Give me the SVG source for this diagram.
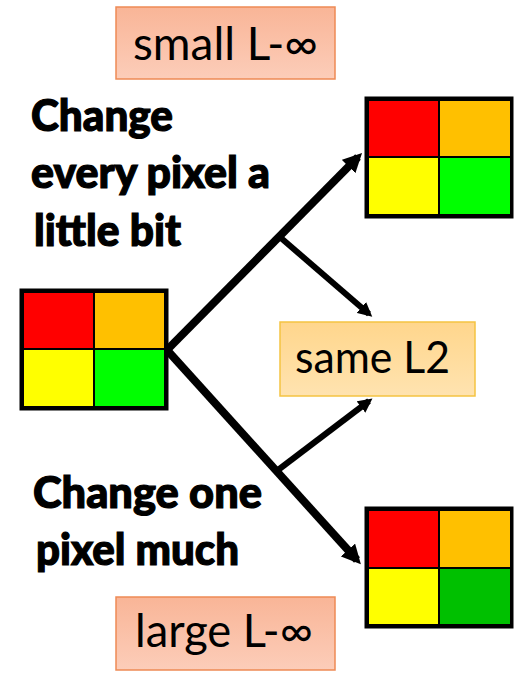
<svg xmlns="http://www.w3.org/2000/svg" width="514" height="690" viewBox="0 0 514 690">
  <defs>
    <linearGradient id="salmon" x1="0" y1="0" x2="0" y2="1">
      <stop offset="0" stop-color="#F9B597"/>
      <stop offset="1" stop-color="#FCCDB9"/>
    </linearGradient>
    <linearGradient id="peach" x1="0" y1="0" x2="0" y2="1">
      <stop offset="0" stop-color="#FFD68C"/>
      <stop offset="1" stop-color="#FFE3B0"/>
    </linearGradient>
    <marker id="arrow" viewBox="0 0 10 10" refX="7" refY="5" markerWidth="2.4" markerHeight="2.4" orient="auto" markerUnits="strokeWidth">
      <path d="M0,0 L10,5 L0,10 z" fill="#000"/>
    </marker>
  </defs>
  <style>
    .lbl { font-family: Lato, "Liberation Sans", sans-serif; fill: #000; }
    .note { font-family: Lato, "Liberation Sans", sans-serif; font-weight: 900; fill: #000; stroke: #000; stroke-width: 1.2; font-size: 44px; }
    .cell { stroke: #000; stroke-width: 2; }
    .frame { fill: none; stroke: #000; stroke-width: 3; }
    .main { stroke: #000; stroke-width: 8; fill: none; stroke-linecap: butt; }
    .branch { stroke: #000; stroke-width: 6; fill: none; }
  </style>

  <g id="connectors">
    <line class="main" x1="167" y1="350" x2="358" y2="157" marker-end="url(#arrow)"/>
    <line class="main" x1="167" y1="350" x2="357" y2="560" marker-end="url(#arrow)"/>
    <line class="branch" x1="281" y1="238" x2="369" y2="314" marker-end="url(#arrow)"/>
    <line class="branch" x1="278" y1="470" x2="369" y2="401" marker-end="url(#arrow)"/>
  </g>

  <g id="small-linf">
    <rect x="116" y="7" width="219" height="72" fill="url(#salmon)" stroke="#EE8A55" stroke-width="1.5"/>
    <text class="lbl" x="133" y="60" font-size="46" textLength="185" lengthAdjust="spacingAndGlyphs">small L-∞</text>
  </g>

  <g id="note-every">
    <text class="note" x="31" y="131" textLength="142" lengthAdjust="spacingAndGlyphs">Change</text>
    <text class="note" x="31" y="188" textLength="239" lengthAdjust="spacingAndGlyphs">every pixel a</text>
    <text class="note" x="34" y="246" textLength="147" lengthAdjust="spacingAndGlyphs">little bit</text>
  </g>

  <g id="grid-original">
    <rect class="cell" x="23" y="292" width="71" height="57" fill="#FF0000"/>
    <rect class="cell" x="94" y="292" width="71" height="57" fill="#FFC000"/>
    <rect class="cell" x="23" y="349" width="71" height="58" fill="#FFFF00"/>
    <rect class="cell" x="94" y="349" width="71" height="58" fill="#00FF00"/>
    <rect class="frame" x="21" y="290" width="146" height="119"/>
  </g>

  <g id="grid-top">
    <rect class="cell" x="368" y="100" width="71" height="57" fill="#FF0000"/>
    <rect class="cell" x="439" y="100" width="72" height="57" fill="#FFC000"/>
    <rect class="cell" x="368" y="157" width="71" height="58" fill="#FFFF00"/>
    <rect class="cell" x="439" y="157" width="72" height="58" fill="#00FF00"/>
    <rect class="frame" x="366" y="98" width="146" height="119"/>
  </g>

  <g id="same-l2">
    <rect x="280" y="322" width="195" height="74" fill="url(#peach)" stroke="#F5C342" stroke-width="1.5"/>
    <text class="lbl" x="295" y="373" font-size="44" textLength="155" lengthAdjust="spacingAndGlyphs">same L2</text>
  </g>

  <g id="note-one">
    <text class="note" x="33" y="508" textLength="229" lengthAdjust="spacingAndGlyphs">Change one</text>
    <text class="note" x="36" y="565" textLength="203" lengthAdjust="spacingAndGlyphs">pixel much</text>
  </g>

  <g id="grid-bottom">
    <rect class="cell" x="368" y="510" width="71" height="58" fill="#FF0000"/>
    <rect class="cell" x="439" y="510" width="72" height="58" fill="#FFC000"/>
    <rect class="cell" x="368" y="568" width="71" height="57" fill="#FFFF00"/>
    <rect class="cell" x="439" y="568" width="72" height="57" fill="#00C000"/>
    <rect class="frame" x="366" y="508" width="146" height="119"/>
  </g>

  <g id="large-linf">
    <rect x="116" y="597" width="219" height="73" fill="url(#salmon)" stroke="#EE8A55" stroke-width="1.5"/>
    <text class="lbl" x="135" y="647" font-size="46" textLength="178" lengthAdjust="spacingAndGlyphs">large L-∞</text>
  </g>
</svg>
